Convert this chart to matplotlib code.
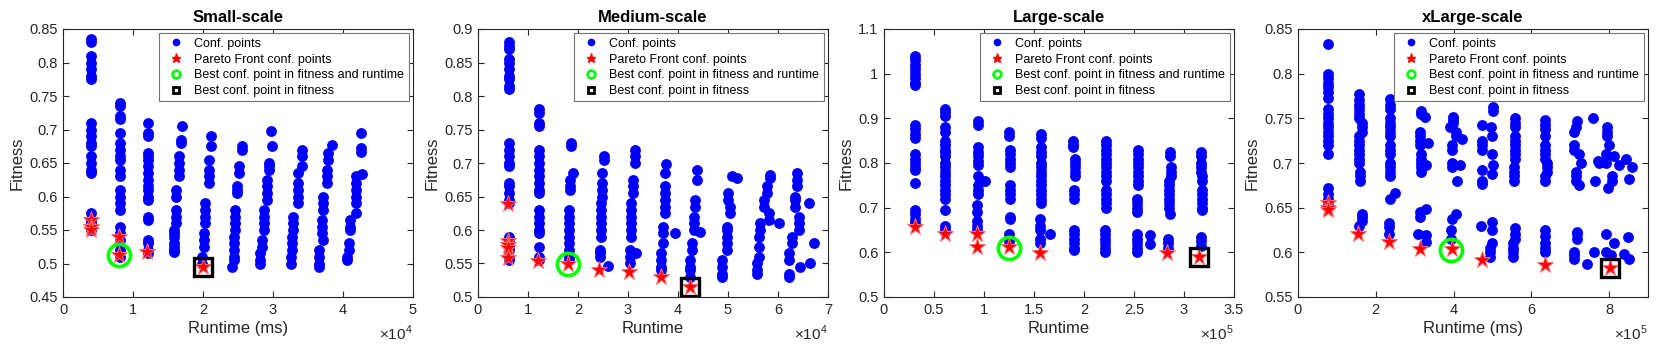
import matplotlib
matplotlib.use("Agg")
import matplotlib.pyplot as plt
from matplotlib.lines import Line2D
from matplotlib.ticker import FuncFormatter
import numpy as np

plt.rcParams["font.family"] = ["Liberation Sans", "DejaVu Sans"]
plt.rcParams["mathtext.fontset"] = "custom"
plt.rcParams["mathtext.rm"] = "Liberation Sans"

# ---- data: (runtime, [fitness values]) groups of configuration points ----
small_conf = [
    (4000, [0.835, 0.83, 0.81, 0.80, 0.79, 0.78, 0.775, 0.71, 0.70, 0.69, 0.68, 0.675, 0.66, 0.65,
            0.64, 0.635, 0.575, 0.565, 0.56, 0.555, 0.55]),
    (8200, [0.74, 0.735, 0.72, 0.715, 0.695, 0.68, 0.67, 0.66, 0.655, 0.64, 0.63, 0.61, 0.60, 0.59,
            0.58, 0.555, 0.545, 0.535, 0.52, 0.51]),
    (12200, [0.71, 0.695, 0.69, 0.665, 0.66, 0.655, 0.645, 0.635, 0.625, 0.615, 0.61, 0.60, 0.595,
             0.57, 0.565, 0.535, 0.53, 0.52, 0.515]),
    (17000, [0.705]), (16800, [0.685, 0.68]), (16500, [0.66, 0.65, 0.64, 0.63]),
    (16200, [0.61, 0.60, 0.58, 0.57, 0.56]), (15800, [0.55, 0.545, 0.54, 0.53, 0.525, 0.52, 0.517]),
    (21100, [0.69, 0.675]), (20800, [0.655, 0.64, 0.63, 0.62]), (20300, [0.59, 0.58, 0.57, 0.56]),
    (20100, [0.545, 0.535, 0.525]), (19900, [0.51, 0.50]),
    (25600, [0.675, 0.67]), (25100, [0.645, 0.635]), (24900, [0.615, 0.61, 0.605]),
    (24600, [0.58, 0.57, 0.56, 0.55]), (24400, [0.54, 0.53, 0.52, 0.51, 0.505]), (24200, [0.495]),
    (29700, [0.698]), (29900, [0.675]), (29400, [0.65, 0.645, 0.64]), (29100, [0.625, 0.615, 0.605, 0.595]),
    (28700, [0.58, 0.57, 0.56, 0.55]), (28400, [0.535, 0.525]), (28100, [0.515, 0.505, 0.50]),
    (34100, [0.67, 0.66, 0.645]), (33600, [0.635, 0.62, 0.61, 0.60, 0.59]), (32900, [0.57, 0.56, 0.55]),
    (32700, [0.54, 0.53, 0.52]), (32500, [0.51, 0.50]),
    (38400, [0.677]), (37900, [0.665, 0.655]), (37700, [0.64, 0.63, 0.62]), (37200, [0.60, 0.59, 0.58]),
    (37000, [0.565, 0.555, 0.545]), (37200, [0.535]), (36600, [0.52, 0.51, 0.50, 0.495]),
    (42600, [0.695, 0.673, 0.667]), (42700, [0.633]), (41900, [0.63, 0.62, 0.61, 0.60]),
    (41800, [0.59, 0.575]), (41000, [0.565, 0.555, 0.55]), (40800, [0.53, 0.52]), (40600, [0.51, 0.505]),
]
small_pareto_x = [4000, 4000, 4000, 8000, 8000, 12000, 20000]
small_pareto_y = [0.565, 0.555, 0.55, 0.54, 0.513, 0.517, 0.495]
small_best_both = (8000, 0.513)
small_best_fit = (20000, 0.495)

medium_conf = [
    (6200, [0.88, 0.875, 0.87, 0.855, 0.85, 0.84, 0.83, 0.825, 0.815, 0.81, 0.73, 0.72, 0.71, 0.70,
            0.695, 0.67, 0.665, 0.655, 0.645, 0.64, 0.59, 0.585, 0.575, 0.57, 0.56, 0.555]),
    (12100, [0.78, 0.775, 0.76, 0.755, 0.72, 0.71, 0.70, 0.69, 0.68, 0.67, 0.66, 0.655, 0.63, 0.62,
             0.61, 0.60, 0.595, 0.575, 0.56, 0.555]),
    (18500, [0.73, 0.725]), (18900, [0.685]), (18400, [0.675, 0.665, 0.66]),
    (18200, [0.63, 0.62, 0.61, 0.60, 0.59, 0.58, 0.57, 0.56, 0.555]),
    (25100, [0.71, 0.705]), (24700, [0.685, 0.67, 0.66, 0.65]), (24600, [0.64, 0.63, 0.62, 0.61, 0.60, 0.59]),
    (24400, [0.57, 0.565, 0.56]), (25900, [0.547]),
    (31300, [0.72, 0.71, 0.70]), (30900, [0.675, 0.665, 0.655]), (30600, [0.64, 0.63, 0.62, 0.61, 0.60, 0.59]),
    (31600, [0.565]), (30300, [0.57, 0.56, 0.55]),
    (37600, [0.698]), (37400, [0.685]), (37300, [0.665, 0.655, 0.645, 0.635, 0.625]),
    (37000, [0.605, 0.595, 0.58]), (39300, [0.595]), (36600, [0.565, 0.555, 0.545, 0.54]),
    (43700, [0.69, 0.675]), (43300, [0.645, 0.635]), (43200, [0.62, 0.61, 0.60]), (44300, [0.597]),
    (42700, [0.58, 0.57]), (42300, [0.555, 0.545, 0.54, 0.53]),
    (50700, [0.68]), (51700, [0.677]), (50000, [0.655, 0.645]), (50400, [0.635, 0.625]),
    (49700, [0.605, 0.60, 0.59, 0.58, 0.57]), (48700, [0.555, 0.545, 0.535, 0.53]),
    (58400, [0.682, 0.678]), (57700, [0.665, 0.655]), (57100, [0.645, 0.635]), (58100, [0.625, 0.615]),
    (56400, [0.61, 0.60]), (60100, [0.61]), (56100, [0.59, 0.575, 0.56]), (55700, [0.55, 0.54, 0.535]),
    (63800, [0.685, 0.675, 0.665]), (63400, [0.65, 0.645, 0.635]), (66100, [0.64]), (64100, [0.62, 0.61, 0.60]),
    (62800, [0.59, 0.58]), (67100, [0.58]), (62100, [0.565, 0.555]), (66400, [0.55]), (64400, [0.545]),
    (62100, [0.535, 0.53]),
]
medium_pareto_x = [6000, 6000, 6000, 6000, 6000, 12000, 17900, 24250, 30100, 36600, 42300]
medium_pareto_y = [0.639, 0.583, 0.578, 0.573, 0.558, 0.553, 0.549, 0.54, 0.537, 0.53, 0.515]
medium_best_both = (17900, 0.549)
medium_best_fit = (42300, 0.515)

large_conf = [
    (30800, [1.04, 1.03, 1.02, 1.01, 1.00, 0.99, 0.98, 0.975, 0.885, 0.875, 0.865, 0.855, 0.82, 0.81,
             0.80, 0.79, 0.785, 0.755, 0.695, 0.685, 0.675, 0.665]),
    (60900, [0.92, 0.915, 0.905, 0.88, 0.87, 0.85, 0.84, 0.83, 0.825, 0.815, 0.80, 0.79, 0.78, 0.77,
             0.76, 0.75, 0.74, 0.73, 0.72, 0.695, 0.66, 0.65, 0.645]),
    (94300, [0.895, 0.885, 0.835, 0.825, 0.815, 0.805, 0.795, 0.77, 0.75, 0.74, 0.73]), (101000, [0.76]),
    (92600, [0.705, 0.69, 0.67, 0.66, 0.65]),
    (125100, [0.87, 0.86]), (126100, [0.83, 0.82, 0.81, 0.80, 0.79, 0.75, 0.74, 0.73, 0.72, 0.68, 0.675]),
    (125100, [0.64, 0.625]),
    (156900, [0.865, 0.855, 0.835, 0.825, 0.815, 0.80, 0.79, 0.78, 0.77, 0.76, 0.75, 0.74, 0.73, 0.72, 0.71]),
    (156200, [0.675, 0.66, 0.65]), (166200, [0.64]), (155500, [0.63, 0.62]),
    (189000, [0.85, 0.84, 0.835]), (191300, [0.81, 0.80, 0.79, 0.78, 0.77]), (190300, [0.74, 0.73, 0.72]),
    (189600, [0.65, 0.64, 0.63, 0.62, 0.61, 0.605]),
    (222100, [0.85, 0.84, 0.83, 0.82, 0.81, 0.80, 0.79, 0.78, 0.77, 0.76, 0.74, 0.73, 0.72, 0.71, 0.70]),
    (221400, [0.65, 0.64, 0.63, 0.62, 0.61, 0.60]),
    (253900, [0.83, 0.82, 0.81, 0.80, 0.79, 0.78, 0.77, 0.76, 0.75]), (253200, [0.72, 0.71, 0.70, 0.69]),
    (252500, [0.64, 0.63, 0.62, 0.61, 0.60]), (265900, [0.638, 0.618]),
    (286000, [0.825, 0.815]), (286600, [0.79, 0.78, 0.77]), (285000, [0.76, 0.75, 0.74, 0.73, 0.72, 0.71, 0.70]),
    (286000, [0.685]), (284000, [0.63, 0.62, 0.61]),
    (317400, [0.825, 0.815, 0.80, 0.79, 0.78]), (318400, [0.77, 0.76, 0.74, 0.73, 0.72, 0.71, 0.70, 0.695]),
    (316700, [0.635, 0.625, 0.615]),
]
large_pareto_x = [30800, 60900, 92600, 92600, 125100, 155500, 282600, 315000]
large_pareto_y = [0.657, 0.64, 0.64, 0.613, 0.612, 0.598, 0.598, 0.589]
large_best_both = (125100, 0.61)
large_best_fit = (315000, 0.589)

xlarge_conf = [
    (78000, [0.833, 0.80, 0.795, 0.79, 0.785, 0.78, 0.773, 0.76, 0.755, 0.75, 0.745, 0.74, 0.735, 0.73,
             0.725, 0.72, 0.71, 0.672, 0.665, 0.66, 0.655]),
    (157800, [0.777, 0.77, 0.765, 0.76, 0.755, 0.75]), (163800, [0.745, 0.74, 0.735]),
    (157800, [0.73, 0.725, 0.72, 0.715, 0.71, 0.705, 0.70]), (160000, [0.69, 0.685, 0.68]),
    (163800, [0.643, 0.64, 0.635]), (157800, [0.63]),
    (235300, [0.772, 0.765, 0.76, 0.75, 0.745, 0.74, 0.735, 0.73, 0.72, 0.715, 0.71, 0.70, 0.695, 0.69,
              0.685, 0.66]), (248300, [0.666]), (232800, [0.633, 0.628, 0.62]),
    (317200, [0.758, 0.755]), (325900, [0.752]), (312900, [0.735, 0.73, 0.725, 0.72]), (334500, [0.722]),
    (317200, [0.71, 0.705, 0.70, 0.695, 0.69]), (330200, [0.698]), (312900, [0.645, 0.64]), (330200, [0.648]),
    (308600, [0.62]), (330200, [0.619, 0.612]),
    (399100, [0.752, 0.748, 0.745]), (390500, [0.74]), (405000, [0.735, 0.73]), (420700, [0.727]),
    (394800, [0.72, 0.715, 0.70, 0.695]), (416400, [0.698]), (407800, [0.68]), (405200, [0.643]),
    (394800, [0.637]), (393100, [0.625, 0.615]),
    (502600, [0.763, 0.758]), (474100, [0.743]), (496600, [0.74]), (498300, [0.73]),
    (474100, [0.725, 0.72, 0.715]), (498300, [0.71]), (502600, [0.698]), (474100, [0.692, 0.68, 0.676]),
    (498300, [0.688]), (470700, [0.63]), (498300, [0.634]), (500000, [0.625, 0.61]),
    (494000, [0.605, 0.60, 0.595]),
    (556900, [0.75, 0.745, 0.74, 0.73, 0.725, 0.72, 0.715, 0.71, 0.705]), (554300, [0.695, 0.69, 0.685, 0.68]),
    (558600, [0.627, 0.62, 0.615]), (552000, [0.61, 0.605, 0.60, 0.595]),
    (636200, [0.748, 0.743, 0.738, 0.73, 0.72, 0.715, 0.71, 0.705]), (640500, [0.70, 0.695, 0.69]),
    (636200, [0.685, 0.68, 0.625, 0.618, 0.61, 0.605, 0.60]),
    (718100, [0.747]), (713800, [0.74]), (709500, [0.735, 0.72, 0.715]), (722400, [0.71]), (726700, [0.70]),
    (713800, [0.69, 0.685, 0.68]), (722400, [0.675]), (763800, [0.68]), (758600, [0.75]), (772400, [0.702]),
    (718100, [0.623, 0.62, 0.615]), (709500, [0.60, 0.597, 0.593]), (761200, [0.60]), (744000, [0.587]),
    (795700, [0.74, 0.735, 0.73]), (800000, [0.72]), (791400, [0.71, 0.705, 0.70]), (774100, [0.70]),
    (812900, [0.708]), (825900, [0.698]), (843100, [0.705]), (858600, [0.696]), (808600, [0.685, 0.68]),
    (798300, [0.672]), (850000, [0.682]), (791400, [0.62]), (812900, [0.61]), (847400, [0.617]),
    (791400, [0.60]), (804300, [0.597]), (838800, [0.598]), (851700, [0.593]),
]
xlarge_pareto_x = [77600, 77600, 77600, 155200, 232800, 312900, 394800, 474100, 634500, 801700]
xlarge_pareto_y = [0.655, 0.65, 0.647, 0.62, 0.612, 0.604, 0.604, 0.591, 0.586, 0.583]
xlarge_best_both = (393100, 0.603)
xlarge_best_fit = (801700, 0.583)

titles = ["Small-scale", "Medium-scale", "Large-scale", "xLarge-scale"]
xlabels = ["Runtime (ms)", "Runtime", "Runtime", "Runtime (ms)"]
x_scales = [1e4, 1e4, 1e5, 1e5]
x_ticks = [[0, 1, 2, 3, 4, 5], [0, 1, 2, 3, 4, 5, 6, 7],
           [0, 0.5, 1, 1.5, 2, 2.5, 3, 3.5], [0, 2, 4, 6, 8]]
x_lims = [(0, 5), (0, 7), (0, 3.5), (0, 9)]
y_ticks = [[0.45, 0.5, 0.55, 0.6, 0.65, 0.7, 0.75, 0.8, 0.85],
           [0.5, 0.55, 0.6, 0.65, 0.7, 0.75, 0.8, 0.85, 0.9],
           [0.5, 0.6, 0.7, 0.8, 0.9, 1.0, 1.1],
           [0.55, 0.6, 0.65, 0.7, 0.75, 0.8, 0.85]]
legend_labels = ["Conf. points", "Pareto Front conf. points",
                 "Best conf. point in fitness and runtime", "Best conf. point in fitness"]

panels = [
    (small_conf, small_pareto_x, small_pareto_y, small_best_both, small_best_fit),
    (medium_conf, medium_pareto_x, medium_pareto_y, medium_best_both, medium_best_fit),
    (large_conf, large_pareto_x, large_pareto_y, large_best_both, large_best_fit),
    (xlarge_conf, xlarge_pareto_x, xlarge_pareto_y, xlarge_best_both, xlarge_best_fit),
]

AX_COL = "0.15"
W, H = 1661, 352
fig = plt.figure(figsize=(W / 100, H / 100), dpi=100)
lefts = [63, 478, 884, 1298]

handles = [
    Line2D([], [], ls="none", marker="o", color="blue", ms=4.5),
    Line2D([], [], ls="none", marker="*", color="red", ms=6.5),
    Line2D([], [], ls="none", marker="o", mfc="none", mec="#00ff00", ms=5.5, mew=2),
    Line2D([], [], ls="none", marker="s", mfc="white", mec="black", ms=5, mew=2),
]

for i, (conf, px, py, both, best) in enumerate(panels):
    ax = fig.add_axes([lefts[i] / W, 55 / H, 350 / W, 268 / H])
    cx = np.concatenate([[x] * len(ys) for x, ys in conf])
    cy = np.concatenate([ys for _, ys in conf])
    ax.plot(cx, cy, ls="none", marker="o", color="blue", ms=7.8, mew=0)
    ax.plot(px, py, ls="none", marker="*", color="red", mec="#ff7070", ms=12.5, mew=0.7)
    ax.plot([both[0]], [both[1]], ls="none", marker="o", mfc="none", mec="#00ff00", ms=16, mew=2.6)
    ax.plot([best[0]], [best[1]], ls="none", marker="s", mfc="none", mec="black", ms=13, mew=2.4)

    s = x_scales[i]
    ax.set_xlim(x_lims[i][0] * s, x_lims[i][1] * s)
    ax.set_xticks([t * s for t in x_ticks[i]])
    ax.xaxis.set_major_formatter(FuncFormatter(lambda v, pos, s=s: f"{v / s:g}"))
    ax.set_ylim(y_ticks[i][0], y_ticks[i][-1])
    ax.set_yticks(y_ticks[i])
    ax.yaxis.set_major_formatter(FuncFormatter(lambda v, pos: f"{v:g}"))

    ax.tick_params(direction="in", top=True, right=True, length=4, width=0.8,
                   labelsize=10.5, colors=AX_COL, pad=4)
    for sp in ax.spines.values():
        sp.set_color(AX_COL)
        sp.set_linewidth(0.8)

    ax.set_title(titles[i], fontsize=12, fontweight="bold", pad=5)
    ax.set_xlabel(xlabels[i], fontsize=12, color=AX_COL, labelpad=3)
    ax.set_ylabel("Fitness", fontsize=12, color=AX_COL, labelpad=3)
    exp = int(round(np.log10(s)))
    ax.text(1.0, -0.135, rf"$\times10^{{{exp}}}$", transform=ax.transAxes,
            ha="right", va="center", fontsize=11, color=AX_COL)

    leg = ax.legend(handles, legend_labels, loc="upper right", fontsize=9, numpoints=1,
                    handlelength=2.0, handletextpad=0.5, labelspacing=0.3, borderpad=0.35,
                    borderaxespad=0.35, fancybox=False, framealpha=1, edgecolor="0.45")
    leg.get_frame().set_linewidth(0.8)
    for t in leg.get_texts():
        t.set_color("black")

fig.savefig("out.png", dpi=100)
